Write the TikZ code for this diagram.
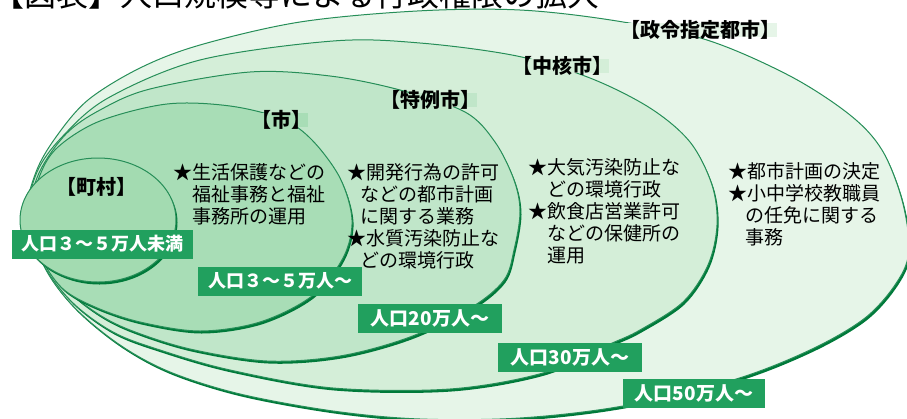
\documentclass[tikz,border=0pt]{standalone}
\usepackage{fontspec}
\newfontfamily\jp{Noto Sans CJK JP}
\definecolor{lnG}{HTML}{007A3A}
\definecolor{cA}{HTML}{E6F5E8}
\definecolor{cB}{HTML}{D4EED8}
\definecolor{cC}{HTML}{C0E6C9}
\definecolor{cD}{HTML}{A8DDB6}
\definecolor{cE}{HTML}{A3DBB1}
\definecolor{boxG}{HTML}{21A05E}
\def\shA{plot[smooth cycle, tension=0.55] coordinates {(27,215) (36,172) (56,137) (88,100) (140,68) (200,45) (300,22) (417,11) (520,10) (617,21) (707,40) (790,76) (850,115) (882,150) (902,200) (909,250) (897,282) (865,318) (810,350) (733,380) (623,406) (520,418) (420,419) (333,411) (240,394) (170,372) (120,345) (75,308) (45,268)}}
\def\shB{plot[smooth cycle, tension=0.55] coordinates {(28,215) (37,172) (62,137) (108,98) (200,60) (333,41) (420,43) (517,56) (590,78) (650,108) (690,142) (712,185) (717,225) (708,265) (683,302) (640,330) (610,344) (543,373) (450,389) (333,388) (230,370) (160,350) (113,332) (72,302) (42,262)}}
\def\shC{plot[smooth cycle, tension=0.55] coordinates {(29,215) (39,173) (66,134) (100,110) (150,89) (250,72) (330,76) (400,90) (465,112) (495,142) (514,180) (520,212) (514,250) (504,280) (472,307) (410,337) (340,356) (267,361) (190,349) (130,330) (95,312) (62,285) (40,253)}}
\def\shD{plot[smooth cycle, tension=0.55] coordinates {(30,215) (40,175) (58,147) (100,121) (167,104) (230,106) (282,119) (312,140) (340,178) (352,220) (343,258) (312,296) (260,322) (200,331) (140,322) (95,307) (62,288) (40,255)}}
\begin{document}
\begin{tikzpicture}[x=1pt,y=-1pt,
  region/.style={draw=lnG!85, line width=1pt},
  shadow/.style={fill=lnG, shift={(1.5,2.5)}},
  bodytxt/.style={font=\jp\fontsize{19}{22}\selectfont, align=left, anchor=north west, inner sep=0pt, text=black},
  brk/.style={font=\jp\bfseries\fontsize{20}{20}\selectfont, inner xsep=-3pt, inner ysep=-3pt, text=black},
  popbox/.style={fill=boxG, text=white, font=\jp\bfseries\fontsize{18}{18}\selectfont, inner sep=0pt, minimum height=29pt},
  popboxL/.style={popbox, font=\jp\bfseries\fontsize{19}{19}\selectfont},
  ttl/.style={font=\jp\fontsize{32}{32}\selectfont, anchor=base west, inner sep=0pt}]
\useasboundingbox (0,0) rectangle (907,418);
\fill[white] (0,0) rectangle (907,418);
% title (mostly cut off at the top edge)
\node[ttl] (title) at (-8,6) {【図表】人口規模等による行政権限の拡大};
% nested regions
\fill[shadow] \shA;
\filldraw[region, fill=cA] \shA;
\fill[shadow] \shB;
\filldraw[region, fill=cB] \shB;
\fill[shadow] \shC;
\filldraw[region, fill=cC] \shC;
\fill[shadow] \shD;
\filldraw[region, fill=cD] \shD;
\fill[lnG] (99.5,222.5) ellipse [x radius=78pt, y radius=62pt];
\filldraw[region, fill=cE] (98,220) ellipse [x radius=78pt, y radius=62pt];
% bracket labels
\node[brk] (lE) at (96,187) {【町村】};
\node[brk, fill=cD] (lD) at (281,120) {【市】};
\node[brk, fill=cC] (lC) at (430,100) {【特例市】};
\node[brk, fill=cB] (lB) at (562,66) {【中核市】};
\node[brk, fill=cA] (lA) at (700,30) {【政令指定都市】};
% body texts
\node[bodytxt] (tD) at (173,163) {★生活保護などの\\\hspace*{1em}福祉事務と福祉\\\hspace*{1em}事務所の運用};
\node[bodytxt] (tC) at (347,163) {★開発行為の許可\\\hspace*{0.7em}などの都市計画\\\hspace*{0.7em}に関する業務\\★水質汚染防止な\\\hspace*{0.7em}どの環境行政};
\node[bodytxt] (tB) at (528,158) {★大気汚染防止な\\\hspace*{1em}どの環境行政\\★飲食店営業許可\\\hspace*{1em}などの保健所の\\\hspace*{1em}運用};
\node[bodytxt] (tA) at (728,162) {★都市計画の決定\\★小中学校教職員\\\hspace*{0.9em}の任免に関する\\\hspace*{0.9em}事務};
% population boxes
\node[popbox, minimum width=181pt] (p1) at (102.5,244) {人口３～５万人未満};
\node[popbox, minimum width=164pt] (p2) at (280,281) {人口３～５万人～};
\node[popboxL, minimum width=144pt] (p3) at (430,318) {人口20万人～};
\node[popboxL, minimum width=144pt] (p4) at (570,357) {人口30万人～};
\node[popboxL, minimum width=142pt] (p5) at (694,393) {人口50万人～};
\end{tikzpicture}
\end{document}
